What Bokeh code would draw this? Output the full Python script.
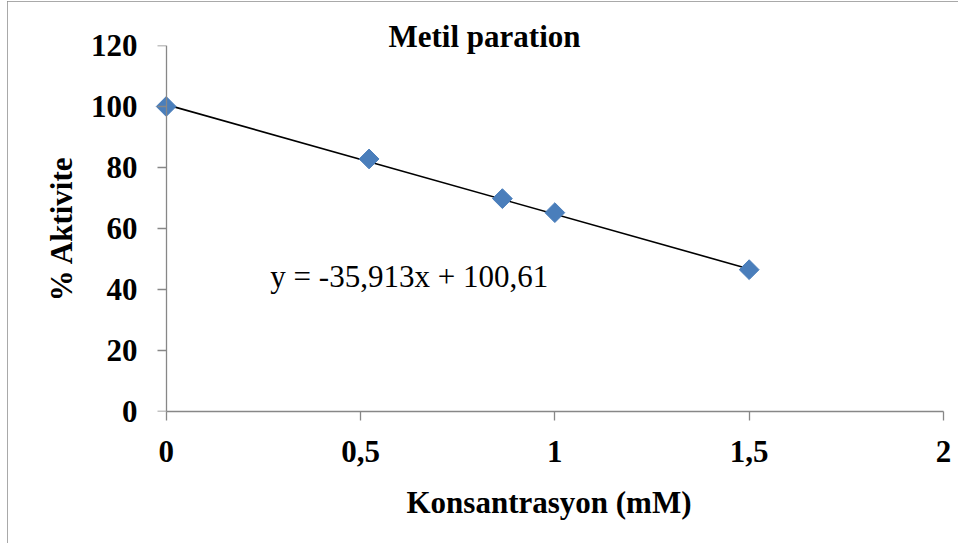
import numpy as np
from bokeh.plotting import figure
from bokeh.models import Label, FixedTicker, ColumnDataSource, LinearAxis
from bokeh.embed import file_html
from bokeh.resources import INLINE

# ---- data ----
konsantrasyon = [0.0, 0.522, 0.865, 1.0, 1.5]
aktivite = [100.0, 82.8, 69.8, 65.2, 46.5]
trend_slope = -35.913
trend_intercept = 100.61
trend_x = [0.0, 1.5]
x_ticks = [0, 0.5, 1, 1.5, 2]
x_tick_labels = ["0", "0,5", "1", "1,5", "2"]
y_ticks = [0, 20, 40, 60, 80, 100, 120]
title_text = "Metil paration"
x_label = "Konsantrasyon (mM)"
y_label = "% Aktivite"
equation_text = "y = -35,913x + 100,61"

FONT = "Liberation Serif"
AXIS_GRAY = "#878787"
MARKER_BLUE = "#4A7EBB"

# ---- layout (pixels inside the figure) ----
W, H = 951, 542
frame_left, frame_right = 147, 936
frame_top, frame_bottom = 44, 410
x0_px = 158.7                      # where x=0 falls
px_per_x = (frame_right - x0_px) / 2.0
x_start = -(x0_px - frame_left) / px_per_x

p = figure(width=W, height=H, x_range=(x_start, 2), y_range=(0, 120),
           output_backend="svg", toolbar_location=None,
           min_border_left=frame_left, min_border_right=W - frame_right,
           min_border_top=frame_top, min_border_bottom=H - frame_bottom)
p.styles = {"margin-left": "7px", "margin-top": "1px",
            "outline": "1.5px solid #8c8c8c", "outline-offset": "-1px"}
p.outline_line_color = None
p.xgrid.visible = False
p.ygrid.visible = False
p.background_fill_color = "white"
p.border_fill_color = "white"

p.title.text = title_text
p.title.align = "left"
p.title.offset = 234
p.title.standoff = -16
p.title.vertical_align = "bottom"
p.title.text_font = FONT
p.title.text_font_style = "bold"
p.title.text_font_size = "31px"
p.title.text_color = "black"

trend_y = [trend_slope * x + trend_intercept for x in trend_x]
p.line(trend_x, trend_y, line_color="black", line_width=1.6)

src = ColumnDataSource(dict(x=konsantrasyon, y=aktivite))
p.scatter("x", "y", source=src, marker="square", angle=np.pi / 4, size=14,
          fill_color=MARKER_BLUE, line_color=MARKER_BLUE)


def style_axis(ax):
    ax.axis_line_color = AXIS_GRAY
    ax.axis_line_width = 1.3
    ax.major_tick_line_color = AXIS_GRAY
    ax.major_tick_line_width = 1.3
    ax.major_tick_out = 9
    ax.major_tick_in = 0
    ax.minor_tick_line_color = None
    ax.major_label_text_font = FONT
    ax.major_label_text_font_style = "bold"
    ax.major_label_text_font_size = "31px"
    ax.major_label_text_color = "black"
    ax.axis_label_text_font = FONT
    ax.axis_label_text_font_style = "bold"
    ax.axis_label_text_font_size = "31px"
    ax.axis_label_text_color = "black"


xa = p.xaxis[0]
style_axis(xa)
xa.ticker = FixedTicker(ticks=x_ticks)
xa.major_label_overrides = {t: l for t, l in zip(x_ticks, x_tick_labels)}
xa.bounds = (0, 2)
xa.major_label_standoff = 20
xa.axis_label = x_label
xa.axis_label_standoff = 20

# labels-only left axis (sits at frame edge)
ya = p.yaxis[0]
style_axis(ya)
ya.ticker = FixedTicker(ticks=y_ticks)
ya.bounds = (0, 120)
ya.axis_line_color = None
ya.major_tick_line_color = None
ya.major_tick_out = 0
ya.major_label_standoff = 17
ya.axis_label = y_label
ya.axis_label_standoff = 9

# line + ticks axis drawn at x = 0 (no labels)
ya0 = LinearAxis(ticker=FixedTicker(ticks=y_ticks), bounds=(0, 120), fixed_location=0)
style_axis(ya0)
ya0.major_label_text_font_size = "0px"
ya0.major_label_text_color = None
ya0.major_label_standoff = 0
p.add_layout(ya0, "left")

p.add_layout(Label(x=0.268, y=44.3, text=equation_text, text_align="left",
                   text_baseline="alphabetic", text_font=FONT,
                   text_font_size="31px", text_color="black"))

open("out.html", "w").write(file_html(p, INLINE))
